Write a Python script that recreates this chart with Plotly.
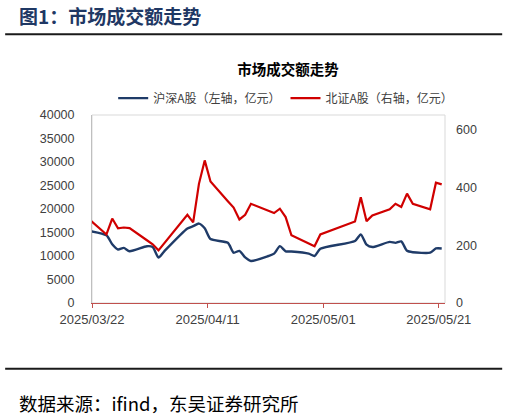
import pandas as pd
import plotly.graph_objects as go

dates = ["2025-03-21", "2025-03-24", "2025-03-25", "2025-03-26", "2025-03-27", "2025-03-28",
         "2025-03-31", "2025-04-01", "2025-04-02", "2025-04-03",
         "2025-04-07", "2025-04-08", "2025-04-09", "2025-04-10", "2025-04-11",
         "2025-04-14", "2025-04-15", "2025-04-16", "2025-04-17", "2025-04-18",
         "2025-04-21", "2025-04-22", "2025-04-23", "2025-04-24", "2025-04-25",
         "2025-04-28", "2025-04-29", "2025-04-30",
         "2025-05-06", "2025-05-07", "2025-05-08", "2025-05-09",
         "2025-05-12", "2025-05-13", "2025-05-14", "2025-05-15", "2025-05-16",
         "2025-05-19", "2025-05-20", "2025-05-21"]

hs_a = [15350, 14400, 12500, 11380, 11720, 11020,
        12080, 11930, 9670, 11000,
        15850, 16340, 16900, 15900, 13600,
        12800, 10700, 11100, 9700, 8950,
        10000, 10500, 12100, 11000, 10950,
        10500, 10000, 11550,
        13200, 14600, 12400, 11900,
        13000, 12800, 13100, 11100, 10800,
        10700, 11600, 11600]

bz_a = [290, 237, 292, 258, 261, 259,
        217, 203, 182, 207,
        305, 279, 412, 493, 420,
        352, 330, 289, 305, 343,
        319, 311, 326, 297, 234,
        205, 196, 237,
        282, 366, 283, 303,
        324, 343, 332, 378, 343,
        324, 416, 410]

tick_labels = ["2025/03/22", "2025/04/11", "2025/05/01", "2025/05/21"]
left_ticks = [0, 5000, 10000, 15000, 20000, 25000, 30000, 35000, 40000]
right_ticks = [0, 200, 400, 600]

name_hs = "沪深A股（左轴，亿元）"
name_bz = "北证A股（右轴，亿元）"
chart_title = "市场成交额走势"
fig_title = "图1：市场成交额走势"
source = "数据来源：ifind，东吴证券研究所"

x = pd.to_datetime(dates)
# Excel date axis "between" mode: ticks sit half a day before the labelled date
half = pd.Timedelta(hours=12)
tick_pos = pd.to_datetime(tick_labels, format="%Y/%m/%d") - half
x_range = [pd.Timestamp("2025-03-22") - half, pd.Timestamp("2025-05-21 13:40")]

FONT = "Liberation Sans, Arial, Noto Sans CJK SC, sans-serif"
CJK = "Noto Sans CJK SC, sans-serif"

fig = go.Figure()
fig.add_trace(go.Scatter(x=x, y=hs_a, name=name_hs, mode="lines",
                         line=dict(color="#1F3B68", width=2.4, shape="spline", smoothing=0.6),
                         yaxis="y"))
fig.add_trace(go.Scatter(x=x, y=bz_a, name=name_bz, mode="lines",
                         line=dict(color="#D00000", width=2.2),
                         yaxis="y2"))

fig.update_layout(
    width=507, height=417,
    margin=dict(l=92, r=62, t=115, b=114),
    paper_bgcolor="white", plot_bgcolor="white",
    font=dict(family=FONT, size=12.5, color="#404040"),
    showlegend=True,
    legend=dict(orientation="h", x=0.06, xanchor="left", y=1.09, yanchor="middle",
                font=dict(family=CJK, size=12, color="#404040"),
                itemwidth=30, tracegroupgap=0, bgcolor="rgba(0,0,0,0)"),
    title=dict(text="<b>" + chart_title + "</b>", x=0.568, xanchor="center",
               y=0.832, yanchor="middle",
               font=dict(family=CJK, size=14.5, color="#000000")),
    xaxis=dict(type="date", range=x_range, tickmode="array",
               tickvals=tick_pos, ticktext=tick_labels,
               showgrid=False, showline=True, linecolor="#C0504D", linewidth=1,
               ticks="outside", ticklen=4, tickcolor="#C0504D",
               tickfont=dict(size=13, color="#404040"), zeroline=False),
    yaxis=dict(range=[0, 40000], tickvals=left_ticks, tickformat="d", showgrid=False,
               showline=True, linecolor="#BFBFBF", linewidth=1, ticks="",
               ticklabelstandoff=14, tickfont=dict(size=12.5, color="#404040"),
               zeroline=False),
    yaxis2=dict(range=[0, 650], tickvals=right_ticks, tickformat="d", overlaying="y", side="right",
                showgrid=False, showline=False, ticks="",
                ticklabelstandoff=10, tickfont=dict(size=12.5, color="#404040"),
                zeroline=False),
)

# plot-area border (light grey), drawn below data
fig.add_shape(type="rect", xref="paper", yref="paper", x0=0, x1=1, y0=0, y1=1,
              line=dict(color="#D9D9D9", width=1), layer="below")

# top heading and rules
fig.add_annotation(text="<b>" + fig_title + "</b>", xref="paper", yref="paper",
                   x=-0.213, y=1.528, xanchor="left", yanchor="middle", showarrow=False,
                   font=dict(family=CJK, size=19, color="#1F3864"))
fig.add_shape(type="line", xref="paper", yref="paper",
              x0=-0.246, x1=1.162, y0=1.43, y1=1.43, line=dict(color="#1a1a1a", width=2))
fig.add_shape(type="line", xref="paper", yref="paper",
              x0=-0.246, x1=1.162, y0=-0.35, y1=-0.35, line=dict(color="#1a1a1a", width=2))
fig.add_annotation(text=source, xref="paper", yref="paper",
                   x=-0.213, y=-0.53, xanchor="left", yanchor="middle", showarrow=False,
                   font=dict(family=CJK, size=18.5, color="#000000"))

fig.write_html("out.html", config={"displayModeBar": False},
               post_script="document.body.style.margin='0';")
